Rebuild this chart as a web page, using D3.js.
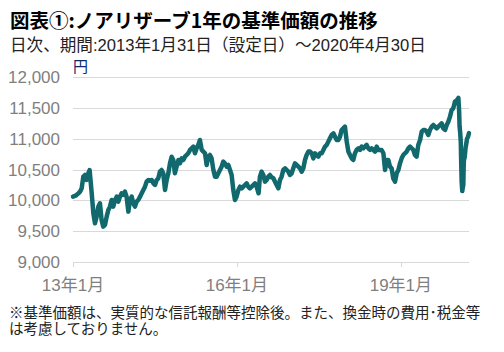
<!DOCTYPE html>
<html><head><meta charset="utf-8">
<script src="https://cdn.jsdelivr.net/npm/d3@7/dist/d3.min.js"></script>
<style>body{margin:0;background:#fff} svg{display:block}</style>
</head><body>
<svg id="c" width="504" height="352"></svg>
<script>
// ---- data ----
const navDates = [
"2013-01-31","2013-02-13","2013-02-24","2013-03-08","2013-03-19","2013-03-30","2013-04-10","2013-04-21","2013-05-02","2013-05-13","2013-05-22","2013-06-05","2013-06-16","2013-06-27","2013-07-08","2013-07-19","2013-07-30","2013-08-10","2013-08-21","2013-09-02","2013-09-13","2013-09-24","2013-10-05","2013-10-16","2013-10-27","2013-11-08","2013-11-19","2013-11-30","2013-12-11","2013-12-22",
"2014-01-02","2014-01-13","2014-01-24","2014-02-05","2014-02-16","2014-02-27","2014-03-10","2014-03-21","2014-04-01","2014-04-12","2014-04-24","2014-05-05","2014-05-16","2014-05-27","2014-06-07","2014-06-18","2014-06-29","2014-07-11","2014-07-22","2014-08-02","2014-08-13","2014-08-24","2014-09-04","2014-09-15","2014-09-26","2014-10-08","2014-10-19","2014-10-30","2014-11-10","2014-11-21","2014-12-02","2014-12-13","2014-12-24",
"2015-01-05","2015-01-16","2015-01-27","2015-02-07","2015-02-18","2015-03-01","2015-03-12","2015-03-24","2015-04-04","2015-04-15","2015-04-26","2015-05-07","2015-05-18","2015-05-29","2015-06-10","2015-06-21","2015-07-02","2015-07-13","2015-07-24","2015-08-04","2015-08-15","2015-08-27","2015-09-07","2015-09-18","2015-09-29","2015-10-10","2015-10-21","2015-11-01","2015-11-12","2015-11-24","2015-12-05","2015-12-16","2015-12-27",
"2016-01-07","2016-01-18","2016-01-29","2016-02-10","2016-02-21","2016-03-03","2016-03-14","2016-03-25","2016-04-05","2016-04-16","2016-04-27","2016-05-09","2016-05-20","2016-05-31","2016-06-11","2016-06-24","2016-07-03","2016-07-14","2016-07-26","2016-08-06","2016-08-17","2016-08-28","2016-09-08","2016-09-19","2016-10-01","2016-10-12","2016-10-23","2016-11-03","2016-11-14","2016-11-25","2016-12-06","2016-12-18","2016-12-29",
"2017-01-09","2017-01-20","2017-01-31","2017-02-11","2017-02-22","2017-03-06","2017-03-17","2017-03-28","2017-04-08","2017-04-19","2017-04-30","2017-05-11","2017-05-23","2017-06-03","2017-06-14","2017-06-25","2017-07-06","2017-07-17","2017-07-28","2017-08-09","2017-08-20","2017-08-31","2017-09-11","2017-09-22","2017-10-03","2017-10-14","2017-10-25","2017-11-06","2017-11-17","2017-11-28","2017-12-09","2017-12-20","2017-12-31",
"2018-01-11","2018-01-22","2018-02-03","2018-02-14","2018-02-25","2018-03-08","2018-03-19","2018-03-30","2018-04-10","2018-04-22","2018-05-03","2018-05-14","2018-05-25","2018-06-05","2018-06-16","2018-06-27","2018-07-09","2018-07-20","2018-07-31","2018-08-11","2018-08-22","2018-09-02","2018-09-13","2018-09-24","2018-10-06","2018-10-17","2018-10-28","2018-11-08","2018-11-19","2018-11-30","2018-12-11","2018-12-23",
"2019-01-03","2019-01-14","2019-01-25","2019-02-05","2019-02-16","2019-02-27","2019-03-11","2019-03-22","2019-04-02","2019-04-13","2019-04-24","2019-05-05","2019-05-16","2019-05-27","2019-06-08","2019-06-19","2019-06-30","2019-07-11","2019-07-22","2019-08-02","2019-08-13","2019-08-25","2019-09-05","2019-09-16","2019-09-27","2019-10-08","2019-10-19","2019-10-30","2019-11-10","2019-11-22","2019-12-03","2019-12-14","2019-12-25",
"2020-01-05","2020-01-16","2020-01-27","2020-02-08","2020-02-19","2020-02-24","2020-02-27","2020-03-02","2020-03-06","2020-03-09","2020-03-12","2020-03-16","2020-03-19","2020-03-23","2020-03-25","2020-03-27","2020-04-01","2020-04-07","2020-04-14","2020-04-17","2020-04-22","2020-04-30"
];
const navValues = [
10060,10071,10087,10114,10141,10195,10384,10411,10330,10438,10492,10114,9790,9628,9736,9898,9952,9682,9574,9601,9736,9844,9898,10006,9898,10006,10060,9979,10060,10114,
10087,10141,10060,9817,10006,10060,9952,9898,9979,10006,10060,10114,10168,10222,10303,10330,10319,10330,10276,10249,10330,10357,10465,10492,10438,10168,10330,10438,10600,10708,10654,10438,10546,
10654,10600,10681,10654,10708,10735,10763,10817,10844,10871,10763,10844,10898,10979,10817,10790,10763,10573,10708,10735,10681,10492,10384,10384,10438,10492,10546,10627,10600,10546,10573,10492,10411,
10168,10006,10060,10168,10222,10195,10222,10249,10276,10222,10195,10222,10249,10276,10222,10114,10384,10465,10411,10303,10330,10384,10411,10373,10357,10303,10249,10195,10330,10384,10492,10519,10492,
10465,10411,10438,10519,10600,10573,10546,10519,10465,10519,10654,10735,10790,10790,10763,10681,10763,10735,10708,10763,10763,10817,10871,10898,10952,11006,11060,11087,11033,10979,10979,11033,11141,
11168,11195,10952,10790,10735,10681,10654,10763,10817,10844,10817,10871,10844,10871,10898,10844,10817,10844,10817,10790,10871,10817,10817,10817,10763,10492,10654,10654,10546,10519,10357,10303,
10438,10492,10600,10681,10735,10763,10790,10844,10871,10844,10817,10735,10708,10898,10979,11114,11141,11141,11114,11060,11141,11195,11222,11195,11168,11195,11222,11249,11168,11141,11222,11276,11357,
11465,11492,11600,11620,11660,11450,11200,11100,10950,10600,10300,10150,10200,10250,10500,10650,10700,10850,10950,11000,11020,11090
];
const yTicks = [9000, 9500, 10000, 10500, 11000, 11500, 12000];
const xTickDates = ["2013-01-31", "2016-01-31", "2019-01-31"];
const xTickLabels = ["13年1月", "16年1月", "19年1月"];
const titleText = "図表①:ノアリザーブ1年の基準価額の推移";
const subtitleText = "日次、期間:2013年1月31日（設定日）～2020年4月30日";
const unitText = "円";
const noteLines = ["※基準価額は、実質的な信託報酬等控除後。また、換金時の費用･税金等", "は考慮しておりません。"];

// ---- chart ----
const parse = d3.timeParse("%Y-%m-%d");
const data = navDates.map((d, i) => ({date: parse(d), value: navValues[i]}));
const svg = d3.select("#c");
const L = 73, R = 469, T = 77, B = 262;
const x = d3.scaleTime().domain([parse("2013-01-31"), parse("2020-04-30")]).range([L, R]);
const y = d3.scaleLinear().domain([9000, 12000]).range([B, T]);
const jp = "'Noto Sans CJK JP', sans-serif";
const num = "'Liberation Sans', 'Noto Sans CJK JP', sans-serif";

// gridlines
svg.append("g").selectAll("line").data(yTicks).join("line")
  .attr("x1", L).attr("x2", R)
  .attr("y1", d => Math.round(y(d)) + 0.5).attr("y2", d => Math.round(y(d)) + 0.5)
  .attr("stroke", "#d9d9d9").attr("stroke-width", 1);

// y labels
svg.append("g").selectAll("text").data(yTicks).join("text")
  .attr("x", 60).attr("y", d => y(d) + 6)
  .attr("text-anchor", "end")
  .style("font-family", num).style("font-size", "17px").attr("fill", "#7f7f7f")
  .text(d => d3.format(",")(d));

// x axis ticks & labels
const xt = xTickDates.map(parse);
svg.append("g").selectAll("line").data(xt).join("line")
  .attr("x1", d => Math.round(x(d)) + 0.5).attr("x2", d => Math.round(x(d)) + 0.5)
  .attr("y1", B).attr("y2", B + 5)
  .attr("stroke", "#d9d9d9");
svg.append("g").selectAll("text").data(xt).join("text")
  .attr("x", d => x(d)).attr("y", 291)
  .attr("text-anchor", "middle")
  .style("font-family", num).style("font-size", "17px").attr("fill", "#7f7f7f")
  .text((d, i) => xTickLabels[i]);

// line
const line = d3.line().x(d => x(d.date)).y(d => y(d.value)).curve(d3.curveLinear);
svg.append("path").datum(data)
  .attr("d", line).attr("fill", "none")
  .attr("stroke", "#11696d").attr("stroke-width", 4.5)
  .attr("stroke-linejoin", "round").attr("stroke-linecap", "round");

// texts
svg.append("text").attr("x", 10).attr("y", 28)
  .style("font-family", jp).style("font-size", "19.5px").style("font-weight", "bold")
  .attr("fill", "#000").text(titleText);
svg.append("text").attr("x", 10).attr("y", 50.5)
  .style("font-family", num).style("font-size", "16.6px")
  .attr("fill", "#222").text(subtitleText);
svg.append("text").attr("x", 73).attr("y", 72)
  .style("font-family", jp).style("font-size", "15px")
  .attr("fill", "#0b2a6b").text(unitText);
svg.append("g").selectAll("text").data(noteLines).join("text")
  .attr("x", 9).attr("y", (d, i) => 318 + i * 15.5)
  .style("font-family", jp).style("font-size", "14.5px")
  .attr("fill", "#222").text(d => d);
</script>
</body></html>
